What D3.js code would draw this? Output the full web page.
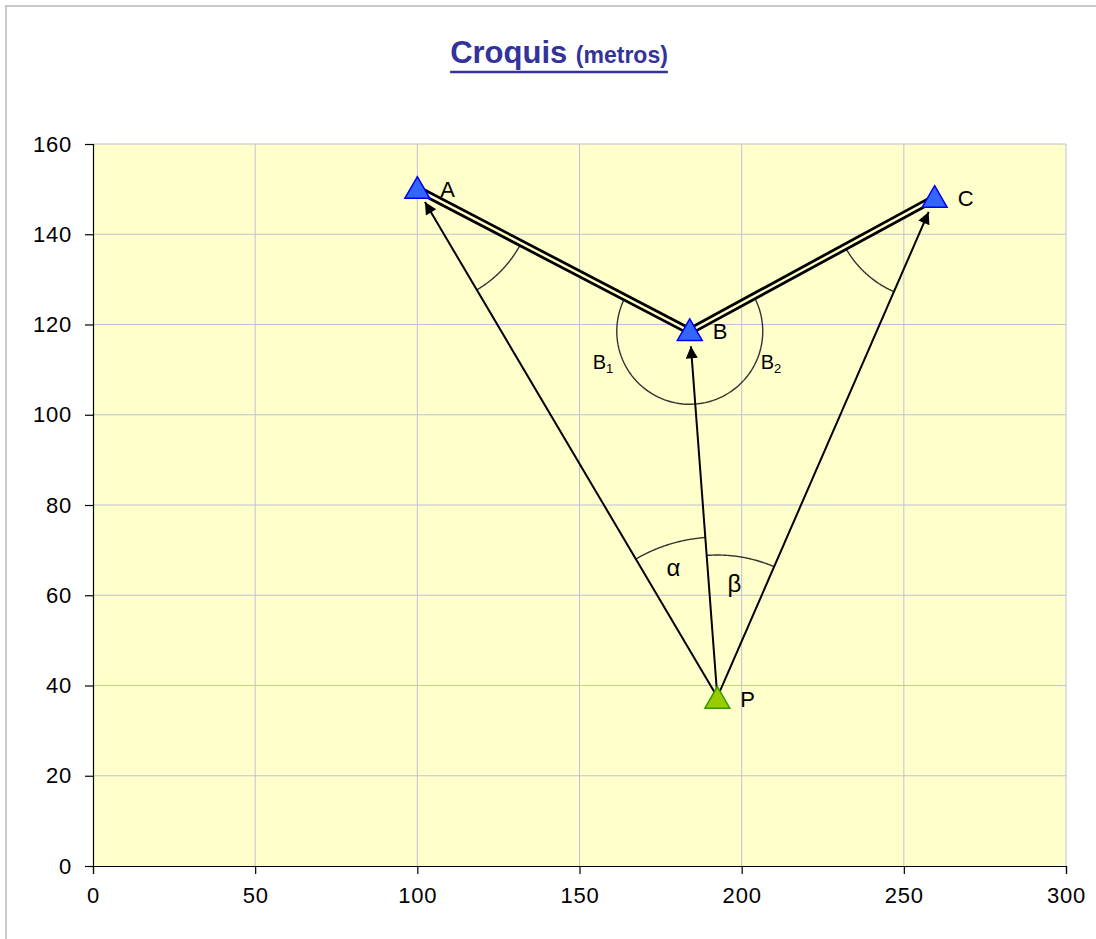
<!DOCTYPE html>
<html>
<head>
<meta charset="utf-8">
<script src="https://cdn.jsdelivr.net/npm/d3@7/dist/d3.min.js"></script>
<style>
  html, body { margin: 0; padding: 0; background: #fff; }
  svg { display: block; font-family: "Liberation Sans", Arial, sans-serif; }
</style>
</head>
<body>
<svg id="chart" width="1096" height="939"></svg>
<script>
// ---- data ----
const pointNames = ["A", "B", "C", "P"];
const pointX = [100, 184, 259.5, 192.5];
const pointY = [150, 118.5, 148, 37];
const xTicks = [0, 50, 100, 150, 200, 250, 300];
const yTicks = [0, 20, 40, 60, 80, 100, 120, 140, 160];
// double line path (stations)
const traverse = ["A", "B", "C"];
// arrows from P
const arrowFrom = "P";
const arrowTo = ["A", "B", "C"];
// angle arcs: vertex, from, to, radius(px), reflex
const arcVertex = ["A", "C", "B", "P", "P"];
const arcFrom = ["B", "B", "A", "A", "B"];
const arcTo = ["P", "P", "C", "B", "C"];
const arcRadius = [117, 102, 73, 162, 144];
const arcReflex = [false, false, true, false, false];
const title = "Croquis";
const subtitle = "(metros)";

// ---- layout ----
const svg = d3.select("#chart");
const L = 93, R = 1066, T = 144, B = 866;
const x = d3.scaleLinear().domain([0, 300]).range([L, R]);
const y = d3.scaleLinear().domain([0, 160]).range([B, T]);
const bg = "#FFFFCC";

// outer border
svg.append("rect").attr("x", 6).attr("y", 6).attr("width", 1200).attr("height", 1100)
  .attr("fill", "#fff").attr("stroke", "#c8c8c8").attr("stroke-width", 2);

// plot area
svg.append("rect").attr("x", L).attr("y", T).attr("width", R - L).attr("height", B - T)
  .attr("fill", bg);

// gridlines
svg.append("g").selectAll("line").data(xTicks.slice(1)).join("line")
  .attr("x1", d => x(d)).attr("x2", d => x(d)).attr("y1", T).attr("y2", B)
  .attr("stroke", "#c0c0d4").attr("stroke-width", 1);
svg.append("g").selectAll("line").data(yTicks.slice(1)).join("line")
  .attr("x1", L).attr("x2", R).attr("y1", d => y(d)).attr("y2", d => y(d))
  .attr("stroke", "#c0c0d4").attr("stroke-width", 1);

// axes
const xAxis = d3.axisBottom(x).tickValues(xTicks).tickSize(8).tickPadding(13);
const yAxis = d3.axisLeft(y).tickValues(yTicks).tickSize(8).tickPadding(13);
const gx = svg.append("g").attr("transform", `translate(0,${B})`).call(xAxis);
const gy = svg.append("g").attr("transform", `translate(${L},0)`).call(yAxis);
[gx, gy].forEach(g => {
  g.attr("font-size", 22).attr("font-family", "'Liberation Sans', Arial, sans-serif");
  g.select(".domain").attr("stroke", "#000").attr("stroke-width", 1.2);
  g.selectAll(".tick line").attr("stroke", "#000").attr("stroke-width", 1.2);
  g.selectAll("text").attr("fill", "#000").attr("letter-spacing", 0.8);
});

// helpers
const P = {};
pointNames.forEach((n, i) => P[n] = [x(pointX[i]), y(pointY[i])]);

// angle arcs
function arcPath(v, a, b, r, reflex) {
  const a1 = Math.atan2(a[1] - v[1], a[0] - v[0]);
  const a2 = Math.atan2(b[1] - v[1], b[0] - v[0]);
  let d = a2 - a1;
  while (d > Math.PI) d -= 2 * Math.PI;
  while (d <= -Math.PI) d += 2 * Math.PI;
  if (reflex) d = d - Math.sign(d) * 2 * Math.PI;
  const n = 80;
  const pts = d3.range(n + 1).map(k => {
    const t = a1 + d * k / n;
    return [v[0] + r * Math.cos(t), v[1] + r * Math.sin(t)];
  });
  return d3.line()(pts);
}
svg.append("g").selectAll("path").data(arcVertex).join("path")
  .attr("d", (v, i) => arcPath(P[v], P[arcFrom[i]], P[arcTo[i]], arcRadius[i], arcReflex[i]))
  .attr("fill", "none").attr("stroke", "#333").attr("stroke-width", 1.4);

// double line traverse
const tline = d3.line()(traverse.map(n => P[n]));
svg.append("path").attr("d", tline).attr("fill", "none").attr("stroke", "#000")
  .attr("stroke-width", 8).attr("stroke-linejoin", "miter");
svg.append("path").attr("d", tline).attr("fill", "none").attr("stroke", bg)
  .attr("stroke-width", 2.4).attr("stroke-linejoin", "miter");

// arrows
svg.append("defs").append("marker").attr("id", "arrow")
  .attr("viewBox", "0 0 10 10").attr("refX", 10).attr("refY", 5)
  .attr("markerWidth", 15).attr("markerHeight", 12).attr("markerUnits", "userSpaceOnUse")
  .attr("orient", "auto")
  .append("path").attr("d", "M0,0 L10,5 L0,10 Z").attr("fill", "#000");
svg.append("g").selectAll("line").data(arrowTo).join("line")
  .each(function (n) {
    const s = P[arrowFrom], e = P[n];
    const dx = e[0] - s[0], dy = e[1] - s[1], len = Math.hypot(dx, dy);
    const k = (len - 15) / len;
    d3.select(this).attr("x1", s[0]).attr("y1", s[1] - 2)
      .attr("x2", s[0] + dx * k).attr("y2", s[1] + dy * k);
  })
  .attr("stroke", "#000").attr("stroke-width", 2).attr("marker-end", "url(#arrow)");

// markers
const tri = d3.symbol().type(d3.symbolTriangle).size(270);
svg.append("g").selectAll("path").data(pointNames).join("path")
  .attr("d", tri)
  .attr("transform", n => `translate(${P[n][0]},${P[n][1] + 2})`)
  .attr("fill", n => n === "P" ? "#99CC00" : "#3366FF")
  .attr("stroke", n => n === "P" ? "#339900" : "#0000EE")
  .attr("stroke-width", 1.5);

// point labels
svg.append("g").selectAll("text").data(pointNames).join("text")
  .attr("x", n => P[n][0] + 23).attr("y", n => P[n][1])
  .attr("dy", "0.35em").attr("font-size", 22).attr("fill", "#000")
  .text(n => n);

// angle labels
function sub(tx, ty, main, s) {
  const t = svg.append("text").attr("x", tx).attr("y", ty).attr("font-size", 20).attr("fill", "#000");
  t.append("tspan").text(main);
  t.append("tspan").attr("font-size", 13).attr("dy", 4).text(s);
}
sub(P.B[0] - 97, P.B[1] + 38, "B", "1");
sub(P.B[0] + 71, P.B[1] + 38, "B", "2");
svg.append("text").attr("x", P.P[0] - 44).attr("y", P.P[1] - 123)
  .attr("text-anchor", "middle").attr("font-size", 24).attr("fill", "#000").text("α");
svg.append("text").attr("x", P.P[0] + 17).attr("y", P.P[1] - 107)
  .attr("text-anchor", "middle").attr("font-size", 24).attr("fill", "#000").text("β");

// title
const tt = svg.append("text").attr("x", 559).attr("y", 63).attr("text-anchor", "middle")
  .attr("fill", "#333399").attr("font-weight", "bold");
tt.append("tspan").attr("font-size", 31).text(title + " ");
tt.append("tspan").attr("font-size", 23).text(subtitle);
const bb = tt.node().getBBox();
svg.append("line").attr("x1", bb.x).attr("x2", bb.x + bb.width)
  .attr("y1", 72).attr("y2", 72).attr("stroke", "#333399").attr("stroke-width", 2.4);
</script>
</body>
</html>
